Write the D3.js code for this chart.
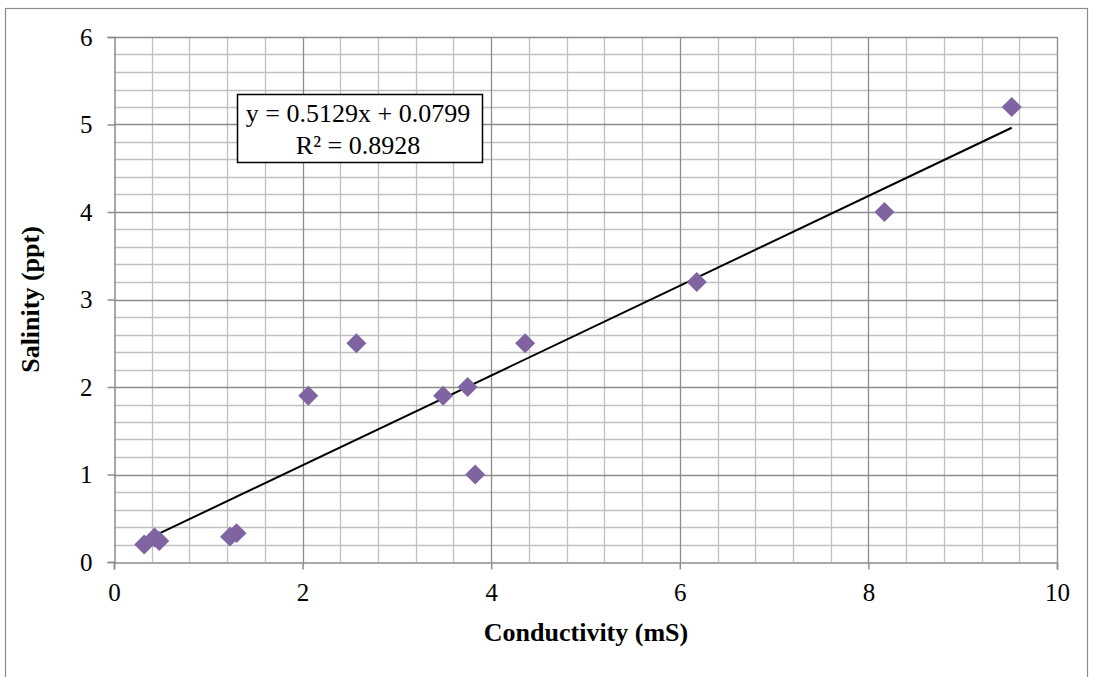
<!DOCTYPE html>
<html>
<head>
<meta charset="utf-8">
<script src="https://cdn.jsdelivr.net/npm/d3@7"></script>
<style>
  html, body { margin: 0; padding: 0; background: #fff; }
  svg { display: block; }
  text { font-family: "Liberation Serif", "Times New Roman", serif; fill: #000; }
</style>
</head>
<body>
<svg id="chart" width="1093" height="677"></svg>
<script>
// Conductivity (mS) vs salinity (ppt) samples
const conductivity = [0.32, 0.43, 0.48, 1.23, 1.30, 2.06, 2.57, 3.49, 3.75, 3.83, 4.36, 6.18, 8.17, 9.52];
const salinity     = [0.20, 0.28, 0.24, 0.29, 0.33, 1.90, 2.50, 1.90, 2.00, 1.00, 2.50, 3.20, 4.00, 5.20];

// Linear trendline coefficients
const slope = 0.5129;
const intercept = 0.0799;
const rSquared = 0.8928;

const xTicks = [0, 2, 4, 6, 8, 10];
const yTicks = [0, 1, 2, 3, 4, 5, 6];

const svg = d3.select("#chart");
const plot = { left: 114, right: 1057, top: 37, bottom: 562 };

const x = d3.scaleLinear().domain([0, 10]).range([plot.left, plot.right]);
const y = d3.scaleLinear().domain([0, 6]).range([plot.bottom, plot.top]);

// Outer chart frame
svg.append("rect")
  .attr("x", 5.5).attr("y", 8.5)
  .attr("width", 1082).attr("height", 700)
  .attr("fill", "#fff").attr("stroke", "#8c8c8c").attr("stroke-width", 1.2);

const g = svg.append("g");

// Minor gridlines
const xMinor = d3.range(0, 10.001, 0.4).filter(v => Math.abs(v / 2 - Math.round(v / 2)) > 1e-6);
const yMinor = d3.range(0, 6.001, 0.2).filter(v => Math.abs(v - Math.round(v)) > 1e-6);

g.selectAll(".xminor").data(xMinor).join("line")
  .attr("x1", d => Math.round(x(d)) + 0.5).attr("x2", d => Math.round(x(d)) + 0.5)
  .attr("y1", plot.top).attr("y2", plot.bottom)
  .attr("stroke", "#c0c0c0").attr("stroke-width", 1.3);

g.selectAll(".yminor").data(yMinor).join("line")
  .attr("y1", d => Math.round(y(d)) + 0.5).attr("y2", d => Math.round(y(d)) + 0.5)
  .attr("x1", plot.left).attr("x2", plot.right)
  .attr("stroke", "#c0c0c0").attr("stroke-width", 1.3);

// Major gridlines
g.selectAll(".xmajor").data(xTicks.slice(1)).join("line")
  .attr("x1", d => Math.round(x(d)) + 0.5).attr("x2", d => Math.round(x(d)) + 0.5)
  .attr("y1", plot.top).attr("y2", plot.bottom)
  .attr("stroke", "#8c8c8c").attr("stroke-width", 1.3);

g.selectAll(".ymajor").data(yTicks.slice(1)).join("line")
  .attr("y1", d => Math.round(y(d)) + 0.5).attr("y2", d => Math.round(y(d)) + 0.5)
  .attr("x1", plot.left).attr("x2", plot.right)
  .attr("stroke", "#8c8c8c").attr("stroke-width", 1.3);

// Axes
const xAxis = d3.axisBottom(x).tickValues(xTicks).tickSize(7).tickPadding(14).tickFormat(d3.format("d"));
const yAxis = d3.axisLeft(y).tickValues(yTicks).tickSize(7).tickPadding(15).tickFormat(d3.format("d"));

const gx = svg.append("g").attr("transform", `translate(0,${plot.bottom + 0.5})`).call(xAxis);
const gy = svg.append("g").attr("transform", `translate(${plot.left + 0.5},0)`).call(yAxis);

[gx, gy].forEach(a => {
  a.select(".domain").attr("stroke", "#8c8c8c").attr("stroke-width", 1.5);
  a.selectAll(".tick line").attr("stroke", "#8c8c8c").attr("stroke-width", 1.5);
  a.selectAll(".tick text").attr("font-size", 25).attr("font-family", "Liberation Serif");
});

// Trendline across the sample range
const xMin = d3.min(conductivity), xMax = d3.max(conductivity);
svg.append("line")
  .attr("x1", x(xMin)).attr("y1", y(slope * xMin + intercept))
  .attr("x2", x(xMax)).attr("y2", y(slope * xMax + intercept))
  .attr("stroke", "#000").attr("stroke-width", 2);

// Diamond markers
const diamond = d3.symbol().type(d3.symbolSquare).size(200);
svg.selectAll(".pt").data(conductivity.map((c, i) => [c, salinity[i]])).join("path")
  .attr("d", diamond)
  .attr("transform", d => `translate(${x(d[0])},${y(d[1])}) rotate(45)`)
  .attr("fill", "#8064a2");

// Trendline equation box
const box = svg.append("g");
box.append("rect")
  .attr("x", 237.5).attr("y", 94.5).attr("width", 245).attr("height", 68)
  .attr("fill", "#fff").attr("stroke", "#000").attr("stroke-width", 1.5);
box.append("text")
  .attr("x", 358).attr("y", 122).attr("text-anchor", "middle").attr("font-size", 26)
  .text(`y = ${slope}x + ${intercept}`);
box.append("text")
  .attr("x", 358).attr("y", 154).attr("text-anchor", "middle").attr("font-size", 26)
  .text(`R² = ${rSquared}`);

// Axis titles
svg.append("text")
  .attr("x", 586).attr("y", 641)
  .attr("text-anchor", "middle").attr("font-size", 26).attr("font-weight", "bold")
  .text("Conductivity (mS)");

svg.append("text")
  .attr("transform", `translate(39,${(plot.top + plot.bottom) / 2}) rotate(-90)`)
  .attr("text-anchor", "middle").attr("font-size", 26).attr("font-weight", "bold")
  .text("Salinity (ppt)");
</script>
</body>
</html>
